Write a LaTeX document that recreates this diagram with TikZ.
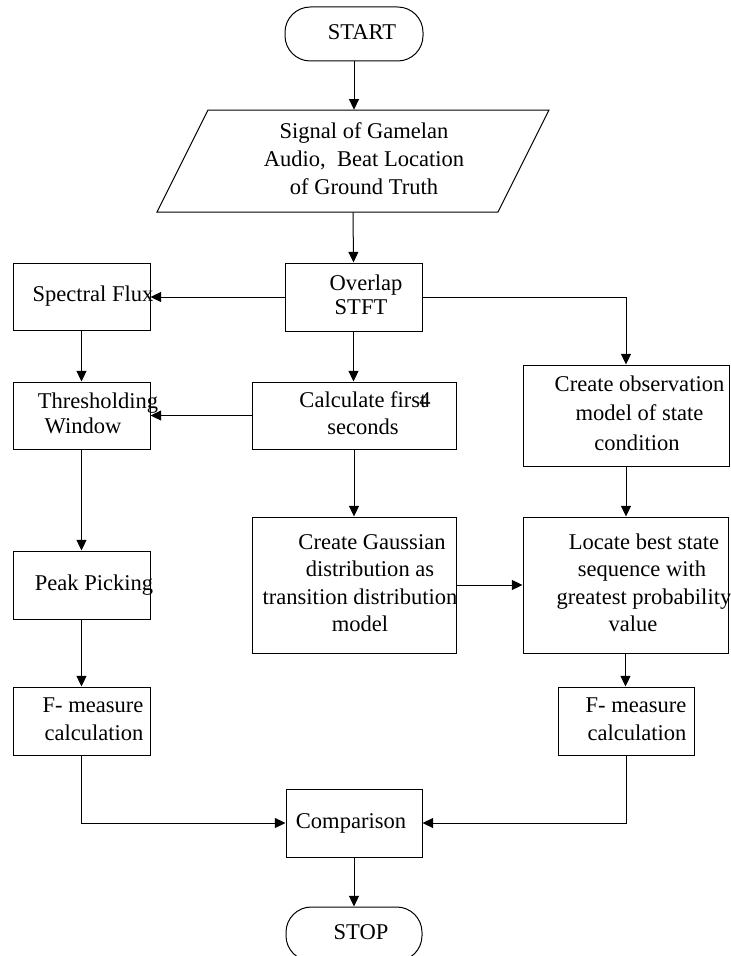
\documentclass[tikz,border=0pt]{standalone}
\usepackage{fontspec}
\setmainfont{Liberation Serif}
\usetikzlibrary{arrows.meta,calc}
\newlength\pxu
\setlength\pxu{0.75pt}
\newcommand{\boxtext}[3][c]{\makebox[0pt]{\hspace*{#2}\begin{tabular}{@{}#1@{}}#3\end{tabular}}}
\begin{document}
\begin{tikzpicture}[x=0.75pt,y=-0.75pt,
  font=\fontsize{16.9}{20.6}\selectfont,
  proc/.style={draw, line width=0.75pt, inner sep=0pt, rectangle},
  term/.style={draw, line width=0.75pt, inner sep=0pt, rounded corners=19pt},
  arr/.style={line width=0.75pt, -{Triangle[length=8pt,width=7.5pt]}},
  ln/.style={line width=0.75pt}]
\useasboundingbox (0,0) rectangle (731,956);
\clip (0,0) rectangle (731,956);

% terminators
\node[term, minimum width=103.5pt, minimum height=40.5pt] (start) at (354,34) {\boxtext{16\pxu}{START}};
\node[term, minimum width=102pt, minimum height=40.5pt] (stop) at (354,934) {\boxtext{14\pxu}{STOP}};

% input parallelogram
\draw[ln] (208,110) -- (549,110) -- (498,212) -- (157,212) -- cycle;
\node[inner sep=0pt, minimum width=217pt, minimum height=76.5pt] (input) at (353,161)
  {\boxtext{22\pxu}{Signal of Gamelan\\[0.4pt]Audio,\ \ Beat Location\\[0.4pt]of Ground Truth}};

% process boxes
\node[proc, minimum width=102.75pt, minimum height=51pt] (overlap) at (353.5,297)
  {\boxtext{25\pxu}{Overlap\\[-1.9pt]STFT\hspace*{10\pxu}}};
\node[proc, minimum width=102.75pt, minimum height=50.25pt] (spectral) at (81.5,296.5)
  {\boxtext{23\pxu}{Spectral Flux}};
\node[proc, minimum width=102.75pt, minimum height=50.25pt] (thresh) at (81.5,415.5)
  {\boxtext{33\pxu}{Thresholding\\[-1.9pt]Window\hspace*{30\pxu}}};
\node[proc, minimum width=153pt, minimum height=50.25pt] (calc) at (354,415.5)
  {\boxtext{22\pxu}{Calculate firs{t}\kern-0.32em4\\seconds\hspace*{4\pxu}}};
\node[proc, minimum width=154.5pt, minimum height=75.75pt] (obs) at (626,415.5)
  {\boxtext{27\pxu}{Create observation\\[1.5pt]model of state\\[1.5pt]condition\hspace*{5\pxu}}};
\node[proc, minimum width=153pt, minimum height=102pt] (gauss) at (354,585)
  {\boxtext{12\pxu}{\hspace*{24\pxu}Create Gaussian\\\hspace*{20\pxu}distribution as\\transition distribution\\model}};
\node[proc, minimum width=153.75pt, minimum height=102pt] (locate) at (625.5,585)
  {\boxtext{37\pxu}{Locate best state\\sequence with\hspace*{4\pxu}\\greatest probability\\value\hspace*{22\pxu}}};
\node[proc, minimum width=102.75pt, minimum height=51pt] (peak) at (81.5,585)
  {\boxtext{25\pxu}{Peak Picking}};
\node[proc, minimum width=102.75pt, minimum height=51pt] (fml) at (81.5,721)
  {\boxtext[r]{23\pxu}{F- measure\\calculation}};
\node[proc, minimum width=102pt, minimum height=51pt] (fmr) at (626,721)
  {\boxtext[r]{20\pxu}{F- measure\\calculation}};
\node[proc, minimum width=102pt, minimum height=51pt] (comp) at (354,823)
  {\boxtext{-6\pxu}{Comparison}};

% connectors
\draw[arr] (start.south) -- (start.south |- input.north);
\draw[arr] (input.south) -- (overlap.north);
\draw[arr] (overlap.west) -- (overlap.west -| spectral.east);
\draw[arr] (overlap.east) -| (obs.north);
\draw[arr] (spectral.south) -- (thresh.north);
\draw[arr] (overlap.south) -- (overlap.south |- calc.north);
\draw[arr] (calc.west) -- (thresh.east);
\draw[arr] (obs.south) -- (obs.south |- locate.north);
\draw[arr] (calc.south) -- (gauss.north);
\draw[arr] (thresh.south) -- (peak.north);
\draw[arr] (gauss.east) -- (locate.west);
\draw[arr] (peak.south) -- (fml.north);
\draw[arr] (locate.south) -- (locate.south |- fmr.north);
\draw[arr] (fml.south) |- (comp.west);
\draw[arr] (fmr.south) |- (comp.east);
\draw[arr] (comp.south) -- (stop.north);
\end{tikzpicture}
\end{document}
